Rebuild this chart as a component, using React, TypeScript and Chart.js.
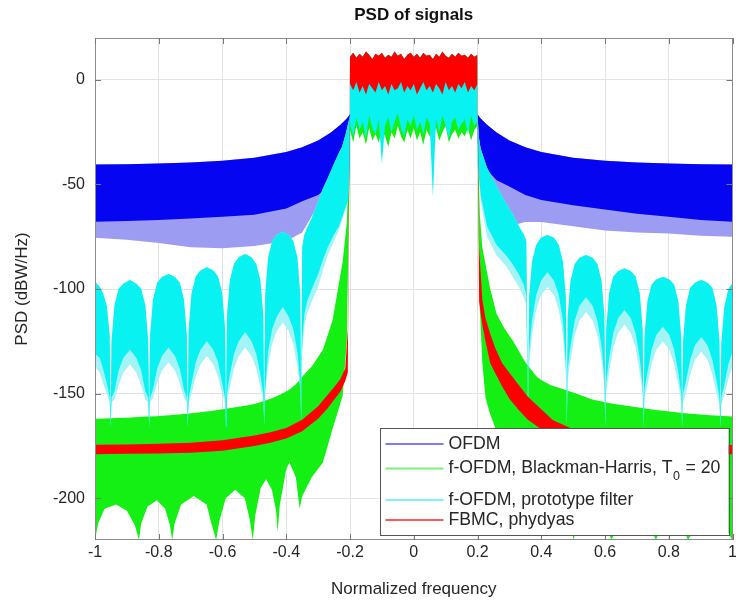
import React, { useEffect, useRef } from 'react';
import { Chart, registerables } from 'chart.js';

Chart.register(...registerables);

// ---------- axes ----------
const xTicks = [-1, -0.8, -0.6, -0.4, -0.2, 0, 0.2, 0.4, 0.6, 0.8, 1];
const xTickLabels = ['-1', '-0.8', '-0.6', '-0.4', '-0.2', '0', '0.2', '0.4', '0.6', '0.8', '1'];
const yTicks = [-200, -150, -100, -50, 0];
const yTickLabels = ['-200', '-150', '-100', '-50', '0'];

const titleText = 'PSD of signals';
const xTitle = 'Normalized frequency';
const yTitle = 'PSD (dBW/Hz)';

const legendLabels = ['OFDM', 'f-OFDM, Blackman-Harris, T_0 = 20', 'f-OFDM, prototype filter', 'FBMC, phydyas'];
const legendColors = ['#7b7bff', '#7df07d', '#80f2f7', '#ff5a5a'];

// ---------- OFDM (blue) ----------
const blueLeftF = [-1, -0.9, -0.8, -0.7, -0.6, -0.5, -0.4, -0.35, -0.3, -0.26, -0.23, -0.21, -0.2];
const blueLeftTop = [-40.5, -40.3, -40, -39.5, -38.7, -37.2, -34.5, -32.2, -29, -25.2, -21.5, -18.5, -16.5];
const blueLeftBot = [-67.8, -67.5, -67, -66.3, -65.5, -64.5, -61.5, -58, -55, -50, -45, -38, -30];
const blueLeftFringe = [-75.5, -76.5, -78, -80, -80.5, -79.5, -77, -73, -60, -52, -46, -38, -30];

const blueRightF = [0.2, 0.21, 0.23, 0.26, 0.3, 0.35, 0.4, 0.5, 0.6, 0.7, 0.8, 0.9, 1];
const blueRightTop = [-16.5, -18.5, -21.5, -25.2, -29, -32.2, -34.5, -37.2, -38.7, -39.5, -40, -40.3, -40.5];
const blueRightBot = [-30, -38, -43, -48, -51, -55, -57.5, -60, -62, -64, -65.5, -67, -67.8];
const blueRightFringe = [-30, -50, -72, -78, -70, -68, -68, -70, -72, -73, -73.5, -74.5, -75];

// ---------- f-OFDM Blackman-Harris (green) ----------
const greenLeftF = [-1, -0.99, -0.97, -0.934, -0.9, -0.875, -0.862, -0.855, -0.835, -0.806, -0.78, -0.765, -0.758, -0.75, -0.73, -0.69, -0.65, -0.635, -0.62, -0.61, -0.59, -0.56, -0.53, -0.515, -0.505, -0.497, -0.48, -0.463, -0.445, -0.432, -0.427, -0.42, -0.4, -0.39, -0.37, -0.358, -0.35, -0.32, -0.285, -0.255, -0.223, -0.21, -0.2];
const greenLeftTop = [-162, -162, -161.9, -161.7, -161.5, -161.3, -161.2, -161.1, -161, -160.8, -160.5, -160.3, -160.2, -160.1, -159.9, -159.3, -158.6, -158.3, -158, -157.7, -157.2, -156.5, -155.8, -155.4, -155.1, -154.9, -154, -153.2, -152.2, -151.4, -151, -150.5, -149, -148, -145.5, -143.5, -142, -137, -129, -115, -87, -68, -25];
const greenLeftBot = [-220, -212, -205, -203, -206, -213, -220, -212, -204, -201, -205, -213, -220, -212, -203, -199, -203, -212, -220, -211, -200, -196, -200, -210, -220, -208, -195, -191, -196, -206, -216, -203, -186, -183, -190, -205, -199, -190, -183, -167, -151, -125, -30];

const greenRightF = [0.2, 0.2075, 0.215, 0.225, 0.24, 0.26, 0.285, 0.312, 0.35, 0.386, 0.4, 0.43, 0.46, 0.49, 0.5, 0.56, 0.62, 0.69, 0.76, 0.81, 0.86, 0.93, 1];
const greenRightTop = [-25, -65, -80, -88, -100, -112, -119, -125, -135, -142, -143.5, -146, -147.5, -149, -149.5, -152.8, -154.8, -156.3, -157.8, -158.7, -159.5, -160.4, -161];
const greenRightBot = [-30, -110, -135, -152, -160, -168, -183, -188, -199, -188, -186, -215, -192, -197, -220, -196, -220, -199, -220, -201, -220, -203, -220];

// ---------- f-OFDM prototype filter (cyan) ----------
const cyanLeftF = [
  -1, -0.985, -0.975, -0.963, -0.954, -0.951,
  -0.948, -0.939, -0.926, -0.911, -0.8905, -0.87, -0.855, -0.842, -0.833, -0.83,
  -0.827, -0.818, -0.805, -0.79, -0.7695, -0.749, -0.734, -0.721, -0.712, -0.709,
  -0.706, -0.697, -0.684, -0.669, -0.649, -0.629, -0.614, -0.601, -0.592, -0.589,
  -0.586, -0.577, -0.564, -0.549, -0.529, -0.509, -0.494, -0.481, -0.472, -0.469,
  -0.466, -0.457, -0.444, -0.429, -0.411, -0.393, -0.378, -0.365, -0.356, -0.353,
  -0.35, -0.343, -0.335, -0.32, -0.3, -0.285, -0.27, -0.25, -0.235, -0.225, -0.212, -0.206, -0.2,
];
const cyanLeftTop = [
  -96.5, -99, -102, -108, -122, -163,
  -125, -108, -100, -97.5, -95.7, -97.5, -100, -108, -125, -163,
  -122, -105, -97, -94.3, -92.8, -94.3, -97, -105, -122, -163,
  -119, -102, -94, -91.2, -89.6, -91.2, -94, -102, -119, -162,
  -113, -96, -88, -84.8, -83.3, -84.8, -88, -96, -113, -161,
  -103, -85, -77, -74, -72.6, -74, -77, -85, -103, -160,
  -80, -74, -71, -66, -58, -52, -47, -40, -35, -32, -25, -21, -17,
];
const cyanLeftBot = [
  -131, -133, -138, -145, -152, -166,
  -152, -149, -139, -133, -129, -133, -139, -149, -152, -166,
  -152, -148, -138, -132, -128, -132, -138, -148, -152, -166,
  -152, -145, -135, -129, -125, -129, -135, -145, -152, -166,
  -150, -141, -131, -125, -120.6, -125, -131, -141, -150, -165,
  -148, -130, -119, -113, -108.6, -113, -119, -130, -145, -164,
  -125, -112, -106, -100, -93, -86, -80, -74, -70, -66, -60, -58, -40,
];
const cyanLeftFringe = [
  -137, -140, -145, -150, -154, -166,
  -154, -153, -146, -140, -136, -140, -146, -153, -154, -166,
  -154, -152, -145, -139, -135, -139, -145, -152, -154, -166,
  -154, -150, -142, -136, -132, -136, -142, -150, -154, -166,
  -153, -147, -138, -132, -128, -132, -138, -147, -153, -165,
  -150, -137, -126, -120, -116, -120, -126, -137, -148, -164,
  -130, -118, -112, -106, -99, -91, -84, -77, -72, -67, -61, -58, -40,
];

const cyanRightF = [
  0.2, 0.205, 0.21, 0.23, 0.26, 0.29, 0.31, 0.33, 0.345, 0.353, 0.359,
  0.362, 0.371, 0.384, 0.399, 0.4195, 0.44, 0.455, 0.468, 0.477, 0.48,
  0.483, 0.492, 0.505, 0.52, 0.5405, 0.561, 0.576, 0.589, 0.598, 0.601,
  0.604, 0.613, 0.626, 0.641, 0.661, 0.681, 0.696, 0.709, 0.718, 0.721,
  0.724, 0.733, 0.746, 0.761, 0.7815, 0.802, 0.817, 0.83, 0.839, 0.842,
  0.845, 0.854, 0.867, 0.882, 0.902, 0.922, 0.937, 0.95, 0.959, 0.962,
  0.965, 0.974, 0.987, 1,
];
const cyanRightTop = [
  -17, -28, -33, -42, -51, -59, -64, -70, -74, -77, -160,
  -104, -87, -79, -75.5, -74.2, -75.5, -79, -87, -104, -161,
  -113, -96, -88, -85, -83.7, -85, -88, -96, -113, -162,
  -119, -102, -94, -91.5, -90.1, -91.5, -94, -102, -119, -162,
  -123, -106, -98, -95.5, -94.1, -95.5, -98, -106, -123, -163,
  -125, -108, -99.5, -97, -95.7, -97, -99.5, -108, -125, -163,
  -126, -109, -100, -97.3,
];
const cyanRightBot = [
  -40, -47, -55, -70, -79, -84, -88, -93, -98, -103, -164,
  -130, -115, -103, -96, -92, -96, -103, -115, -135, -165,
  -138, -127, -115, -108, -104, -108, -115, -127, -142, -166,
  -144, -133, -121, -114, -110, -114, -121, -133, -146, -166,
  -148, -140, -129, -122, -118, -122, -129, -140, -150, -166,
  -150, -144, -134, -127, -123, -127, -134, -144, -152, -166,
  -152, -146, -136, -130,
];
const cyanRightFringe = [
  -40, -49, -58, -75, -84, -89, -94, -99, -104, -108, -164,
  -136, -122, -110, -103, -99, -103, -110, -122, -140, -165,
  -143, -134, -122, -115, -111, -115, -122, -134, -147, -166,
  -149, -140, -128, -121, -117, -121, -128, -140, -150, -166,
  -152, -146, -136, -129, -125, -129, -136, -146, -153, -166,
  -154, -150, -141, -134, -130, -134, -141, -150, -155, -166,
  -155, -151, -143, -137,
];

// ---------- pass band (all signals) ----------
const passF = [-0.2, -0.19, -0.18, -0.17, -0.16, -0.15, -0.14, -0.13, -0.12, -0.11, -0.1, -0.09, -0.08, -0.07, -0.06, -0.05, -0.04, -0.03, -0.02, -0.01, 0, 0.01, 0.02, 0.03, 0.04, 0.05, 0.06, 0.07, 0.08, 0.09, 0.1, 0.11, 0.12, 0.13, 0.14, 0.15, 0.16, 0.17, 0.18, 0.19, 0.2];
const passRedTop = [11, 13, 10.5, 12.5, 11, 13.5, 12, 10, 12.5, 11.5, 13, 10.5, 12, 11, 13.5, 11.5, 12.5, 10, 12, 13, 11, 12.5, 10.5, 13, 11.5, 12, 10, 12.5, 11, 13.5, 11.5, 10.5, 12.5, 11, 13, 11.5, 12, 10.5, 12.5, 11, 12];
const passRedBot = [-2, -5, -1, -6, -3, -7, -2, -4, -6, -1, -5, -3, -7, -2, -5, -4, -1, -6, -3, -5, -2, -7, -4, -1, -5, -3, -6, -2, -4, -7, -1, -5, -3, -6, -2, -4, -1, -6, -3, -5, -2];
const passCyanBot = [-21, -27, -18, -24, -20, -28, -17, -23, -26, -19, -40, -22, -18, -25, -20, -16, -23, -27, -19, -22, -17, -24, -20, -26, -18, -21, -56, -19, -25, -17, -22, -28, -20, -18, -24, -21, -19, -26, -17, -22, -20];
const passGreenBot = [-24, -30, -22, -28, -25, -31, -23, -29, -26, -30, -24, -27, -32, -25, -28, -22, -27, -30, -24, -28, -23, -29, -25, -31, -24, -27, -26, -23, -29, -25, -22, -30, -26, -24, -28, -25, -27, -23, -29, -24, -22];

// ---------- FBMC phydyas (red) ----------
const redLeftF = [-1, -0.9, -0.8, -0.7, -0.6, -0.5, -0.45, -0.4, -0.35, -0.3, -0.27, -0.25, -0.23, -0.215, -0.207, -0.2];
const redLeftTop = [-174.5, -174.3, -174, -173.5, -172.3, -170, -168.5, -166.5, -162.5, -156, -150.5, -147, -143, -138, -120, 11];
const redLeftBot = [-179, -178.8, -178.6, -178.3, -177.3, -175, -173.5, -171.5, -168, -162, -157, -153, -149, -144, -140, -2];
const redRightF = [0.2, 0.205, 0.215, 0.225, 0.24, 0.255, 0.277, 0.3, 0.33, 0.358, 0.4, 0.437, 0.5, 0.6, 0.7, 0.8, 0.9, 1];
const redRightTop = [12, -80, -105, -114, -121.5, -128, -135.4, -140, -146, -151.5, -157.5, -162.7, -167, -171, -173, -174, -174.4, -174.6];
const redRightBot = [-2, -106, -117, -125, -135.5, -140, -146.5, -152.5, -158, -162.5, -167, -170.5, -173.5, -176.5, -178, -178.6, -178.9, -179];

const FONT = "'Liberation Sans', Arial, Helvetica, sans-serif";

function band(f: number[], top: number[], bot: number[], color: string, order: number, label: string) {
  return [
    {
      label: label + ' upper',
      data: f.map((x, i) => ({ x, y: top[i] })),
      borderWidth: 0,
      pointRadius: 0,
      fill: false,
      order,
    },
    {
      label,
      data: f.map((x, i) => ({ x, y: bot[i] })),
      borderWidth: 0,
      pointRadius: 0,
      fill: '-1',
      backgroundColor: color,
      order,
    },
  ];
}

const BLUE = '#0505f2';
const LAV = '#9c9cf2';
const GREEN = '#14f014';
const CYAN = '#08f2f2';
const CYAN_LIGHT = '#a4f3f6';
const RED = '#ff0000';

const titlePlugin = {
  id: 'psdTitle',
  afterDraw(chart: any) {
    const { ctx, chartArea: a } = chart;
    ctx.save();
    ctx.fillStyle = '#111';
    ctx.font = `bold 17px ${FONT}`;
    ctx.textAlign = 'center';
    ctx.textBaseline = 'middle';
    ctx.fillText(titleText, (a.left + a.right) / 2, 15);
    ctx.restore();
  },
};

const framePlugin = {
  id: 'frameTicks',
  afterDatasetsDraw(chart: any) {
    const { ctx, chartArea: a, scales } = chart;
    ctx.save();
    ctx.strokeStyle = '#8c8c8c';
    ctx.lineWidth = 1;
    ctx.strokeRect(Math.round(a.left) + 0.5, Math.round(a.top) + 0.5, Math.round(a.right - a.left) - 1, Math.round(a.bottom - a.top) - 1);
    ctx.strokeStyle = '#777';
    ctx.beginPath();
    for (const v of xTicks) {
      const px = Math.round(scales.x.getPixelForValue(v)) + 0.5;
      ctx.moveTo(px, a.bottom);
      ctx.lineTo(px, a.bottom - 6);
      ctx.moveTo(px, a.top);
      ctx.lineTo(px, a.top + 6);
    }
    for (const v of yTicks) {
      const py = Math.round(scales.y.getPixelForValue(v)) + 0.5;
      ctx.moveTo(a.left, py);
      ctx.lineTo(a.left + 6, py);
      ctx.moveTo(a.right, py);
      ctx.lineTo(a.right - 6, py);
    }
    ctx.stroke();
    ctx.restore();
  },
};

const legendPlugin = {
  id: 'psdLegend',
  afterDraw(chart: any) {
    const { ctx, chartArea: a } = chart;
    const right = a.right - 4;
    const bottom = a.bottom - 5;
    const w = 349;
    const h = 107;
    const left = right - w;
    const top = bottom - h;
    const rows = [16, 40.5, 72, 92];
    ctx.save();
    ctx.fillStyle = '#ffffff';
    ctx.fillRect(left, top, w, h);
    ctx.strokeStyle = '#555';
    ctx.lineWidth = 1;
    ctx.strokeRect(Math.round(left) + 0.5, Math.round(top) + 0.5, w, h);
    legendLabels.forEach((lab, i) => {
      const y = top + rows[i];
      ctx.strokeStyle = legendColors[i];
      ctx.lineWidth = 2;
      ctx.beginPath();
      ctx.moveTo(left + 6, y);
      ctx.lineTo(left + 64, y);
      ctx.stroke();
      ctx.fillStyle = '#262626';
      ctx.textBaseline = 'middle';
      ctx.textAlign = 'left';
      ctx.font = `17.7px ${FONT}`;
      let x = left + 69;
      const parts = lab.split('_');
      ctx.fillText(parts[0], x, y);
      if (parts.length > 1) {
        x += ctx.measureText(parts[0]).width;
        const sub = parts[1].charAt(0);
        const rest = parts[1].slice(1);
        ctx.font = `12.5px ${FONT}`;
        ctx.fillText(sub, x + 0.5, y + 8);
        x += ctx.measureText(sub).width + 1;
        ctx.font = `17.7px ${FONT}`;
        ctx.fillText(rest, x, y);
      }
    });
    ctx.restore();
  },
};

export default function App() {
  const ref = useRef<HTMLCanvasElement | null>(null);
  useEffect(() => {
    if (!ref.current) return;
    const datasets: any[] = [
      ...band(redLeftF, redLeftTop, redLeftBot, RED, 1, 'FBMC L'),
      ...band(passF, passRedTop, passRedBot, RED, 1, 'FBMC P'),
      ...band(redRightF, redRightTop, redRightBot, RED, 1, 'FBMC R'),
      ...band(cyanLeftF, cyanLeftTop, cyanLeftBot, CYAN, 2, 'proto L'),
      ...band(passF, passRedTop, passCyanBot, CYAN, 2, 'proto P'),
      ...band(cyanRightF, cyanRightTop, cyanRightBot, CYAN, 2, 'proto R'),
      ...band(cyanLeftF, cyanLeftTop, cyanLeftFringe, CYAN_LIGHT, 2.5, 'proto LF'),
      ...band(cyanRightF, cyanRightTop, cyanRightFringe, CYAN_LIGHT, 2.5, 'proto RF'),
      ...band(greenLeftF, greenLeftTop, greenLeftBot, GREEN, 3, 'BH L'),
      ...band(passF, passRedTop, passGreenBot, GREEN, 3, 'BH P'),
      ...band(greenRightF, greenRightTop, greenRightBot, GREEN, 3, 'BH R'),
      ...band(blueLeftF, blueLeftTop, blueLeftBot, BLUE, 4, 'OFDM L'),
      ...band(blueRightF, blueRightTop, blueRightBot, BLUE, 4, 'OFDM R'),
      ...band(blueLeftF, blueLeftTop, blueLeftFringe, LAV, 5, 'OFDM LF'),
      ...band(blueRightF, blueRightTop, blueRightFringe, LAV, 5, 'OFDM RF'),
    ];
    const chart = new Chart(ref.current, {
      type: 'line',
      data: { datasets },
      options: {
        responsive: false,
        animation: false,
        events: [],
        layout: { padding: { top: 38, right: 3.5, bottom: 0, left: 0 } },
        plugins: {
          legend: { display: false },
          tooltip: { enabled: false },
          title: { display: false },
        },
        scales: {
          x: {
            type: 'linear',
            min: -1,
            max: 1,
            afterBuildTicks: (s: any) => {
              s.ticks = xTicks.map((value) => ({ value }));
            },
            afterFit: (s: any) => {
              s.height = 63;
              s.paddingLeft = 0;
              s.paddingRight = 0;
            },
            ticks: {
              callback: (_v: any, i: number) => xTickLabels[i],
              color: '#262626',
              font: { family: FONT, size: 16 },
              padding: 3,
              maxRotation: 0,
              autoSkip: false,
            },
            grid: { color: '#e3e3e3', lineWidth: 1, drawTicks: false },
            border: { display: false },
            title: {
              display: true,
              text: xTitle,
              color: '#262626',
              font: { family: FONT, size: 17 },
              padding: { top: 0, bottom: 3 },
            },
          },
          y: {
            type: 'linear',
            min: -220,
            max: 20,
            afterBuildTicks: (s: any) => {
              s.ticks = yTicks.map((value) => ({ value }));
            },
            afterFit: (s: any) => {
              s.width = 95;
              s.paddingTop = 0;
              s.paddingBottom = 0;
            },
            ticks: {
              callback: (_v: any, i: number) => yTickLabels[i],
              color: '#262626',
              font: { family: FONT, size: 16 },
              padding: 10,
              autoSkip: false,
            },
            grid: { color: '#e3e3e3', lineWidth: 1, drawTicks: false },
            border: { display: false },
            title: {
              display: true,
              text: yTitle,
              color: '#262626',
              font: { family: FONT, size: 17 },
              padding: { top: 12, bottom: 0 },
            },
          },
        },
      },
      plugins: [framePlugin, legendPlugin, titlePlugin],
    });
    return () => chart.destroy();
  }, []);
  return (
    <div style={{ position: 'absolute', left: 0, top: 0, width: 736, height: 603, background: '#fff' }}>
      <canvas ref={ref} width={736} height={603} style={{ display: 'block' }} />
    </div>
  );
}
